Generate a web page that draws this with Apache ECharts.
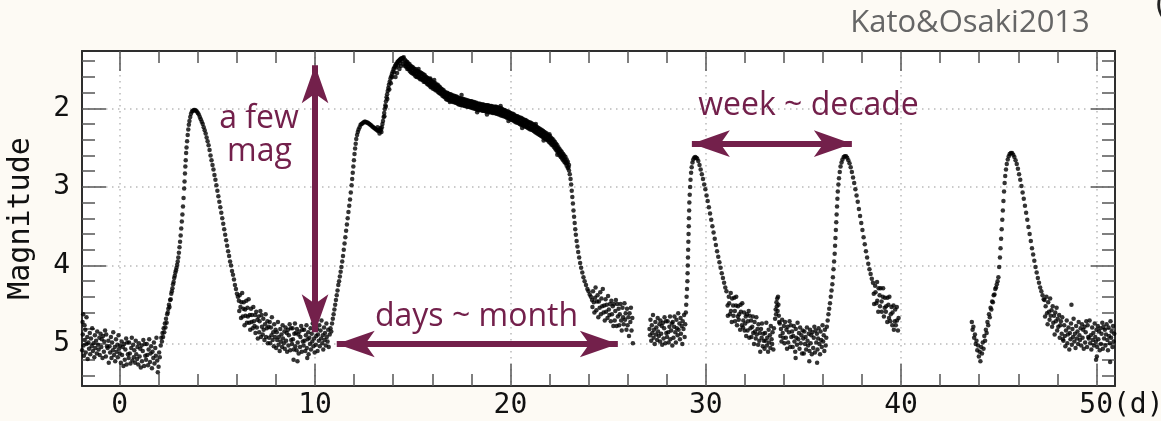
<!DOCTYPE html>
<html>
<head>
<meta charset="utf-8">
<script src="https://cdn.jsdelivr.net/npm/echarts@6/dist/echarts.min.js"></script>
<style>
  html, body { margin: 0; padding: 0; background: #fdfaf4; }
  #chart { width: 1161px; height: 421px; }
</style>
</head>
<body>
<div id="chart"></div>
<script>
// light curve, [day, magnitude]
var quiet1 = [[-1.9,4.72],[-1.87,4.62],[-1.8,4.76],[-1.7,4.66],
  [-1.92,5.08],[-1.89,4.88],[-1.85,5.02],[-1.83,5.15],[-1.79,4.95],[-1.76,4.82],[-1.74,5.11],[-1.7,5.0],[-1.66,4.91],[-1.64,5.19],[-1.6,4.98],[-1.57,5.06],[-1.53,4.86],[-1.51,5.13],[-1.47,4.93],[-1.43,5.03],[-1.41,4.8],[-1.37,5.09],[-1.34,4.99],[-1.3,5.17],[-1.27,4.89],[-1.25,5.05],[-1.21,4.96],[-1.17,5.12],[-1.15,4.84],[-1.11,5.01],[-1.08,5.07],[-1.04,4.92],[-1.02,5.14],[-0.98,4.87],[-0.94,5.04],[-0.92,4.94],[-0.88,5.18],[-0.85,4.9],[-0.81,5.1],[-0.79,4.97],[-0.75,4.83],[-0.71,5.16],[-0.69,4.88],[-0.65,5.03],
  [-0.62,5.05],[-0.58,4.96],[-0.56,5.24],[-0.52,5.03],[-0.49,5.11],[-0.45,4.91],[-0.42,5.18],[-0.39,4.98],[-0.35,5.08],[-0.33,4.85],[-0.29,5.14],[-0.25,5.04],[-0.23,5.22],[-0.19,4.94],[-0.16,5.1],[-0.12,5.01],[-0.1,5.17],[-0.06,4.89],[-0.03,5.06],[0.0,5.12],
  [0.03,5.02],[0.06,5.24],[0.1,4.97],[0.12,5.14],[0.16,5.04],[0.19,5.28],[0.23,5.0],[0.26,5.2],[0.29,5.07],[0.33,4.93],[0.35,5.26],[0.39,4.98],[0.42,5.13],[0.46,5.18],[0.48,4.98],[0.52,5.12],[0.55,5.25],[0.59,5.05],[0.62,4.92],[0.65,5.21],
  [0.69,5.01],[0.72,5.17],[0.75,5.08],[0.79,5.24],[0.82,4.96],[0.85,5.13],[0.89,5.19],[0.91,5.04],[0.95,5.26],[0.98,4.99],[1.02,5.16],[1.05,5.06],[1.08,5.3],[1.12,5.02],[1.14,5.22],[1.18,5.09],[1.21,4.95],[1.25,5.28],[1.28,5.0],[1.31,5.15],[1.35,5.2],[1.38,5.0],[1.41,5.14],[1.45,5.27],[1.48,5.07],[1.51,4.94],[1.55,5.23],[1.58,5.12],[1.61,5.03],[1.65,5.31],[1.68,5.1],[1.72,5.18],[1.75,4.98],[1.78,5.25],[1.82,5.05],[1.85,5.15],[1.88,4.92],[1.92,5.21],[1.95,5.36],[1.99,5.29],[2.02,5.11],[2.05,5.17]];

var outburst1 = [[2.1,5.02],[2.13,4.92],[2.16,4.97],[2.19,4.86],[2.22,4.91],[2.25,4.8],[2.28,4.85],[2.31,4.74],[2.34,4.79],[2.37,4.68],[2.4,4.73],[2.43,4.62],[2.46,4.6],[2.49,4.55],[2.52,4.5],[2.55,4.53],[2.58,4.44],[2.61,4.43],[2.64,4.36],[2.67,4.33],[2.7,4.29],[2.73,4.24],[2.76,4.21],[2.79,4.16],[2.82,4.13],[2.85,4.09],[2.88,4.06],[2.91,4.03],[2.94,3.99],[2.97,3.95],[3.0,3.9],[3.03,3.84],[3.06,3.77],[3.09,3.7],[3.12,3.62],[3.15,3.53],[3.18,3.44],[3.21,3.35],[3.24,3.25],[3.27,3.14],[3.3,3.02],[3.32,2.93],[3.34,2.83],[3.36,2.74],[3.38,2.66],[3.4,2.57],[3.42,2.5],[3.45,2.42],[3.48,2.34],[3.51,2.27],[3.54,2.21],[3.57,2.16],[3.61,2.11],[3.65,2.07],[3.7,2.04],[3.75,2.03],[3.8,2.02],[3.85,2.02],[3.9,2.03],[3.95,2.04],[4.0,2.06],[4.05,2.08],[4.1,2.11],[4.15,2.14],[4.2,2.17],[4.25,2.2],[4.3,2.24],[4.35,2.28],[4.4,2.32],[4.45,2.37],[4.5,2.42],[4.55,2.47],[4.6,2.53],[4.65,2.6],[4.7,2.66],[4.75,2.72],[4.8,2.78],[4.85,2.85],[4.9,2.91],[4.95,2.98],[5.0,3.05],[5.05,3.12],[5.1,3.19],[5.15,3.26],[5.2,3.33],[5.25,3.4],[5.3,3.47],[5.35,3.54],[5.4,3.61],[5.45,3.68],[5.5,3.75],[5.55,3.82],[5.6,3.88],[5.65,3.95],[5.7,4.0],[5.75,4.07],[5.8,4.12],[5.85,4.18],[5.9,4.25],[5.95,4.3],[6.0,4.36],[6.05,4.4],[6.1,4.45]];

var quiet2 = [[6.12,4.58],[6.14,4.38],[6.18,4.53],[6.21,4.67],[6.23,4.47],[6.27,4.35],[6.3,4.65],[6.33,4.55],[6.35,4.47],[6.39,4.76],[6.42,4.56],[6.44,4.64],[6.48,4.45],[6.51,4.73],[6.54,4.54],[6.56,4.65],[6.6,4.43],[6.63,4.73],[6.66,4.63],[6.68,4.82],[6.72,4.55],[6.75,4.72],[6.77,4.63],[6.81,4.8],[6.84,4.53],[6.87,4.71],[6.9,4.77],[6.93,4.63],[6.95,4.86],[6.99,4.59],
  [7.02,4.79],[7.05,4.69],[7.07,4.93],[7.11,4.65],[7.14,4.85],[7.16,4.71],[7.2,4.58],[7.23,4.91],[7.26,4.63],[7.28,4.78],[7.32,4.88],[7.35,4.68],[7.37,4.82],[7.41,4.95],[7.44,4.75],[7.47,4.62],[7.49,4.91],[7.53,4.8],[7.56,4.71],[7.58,4.99],[7.62,4.78],[7.65,4.92],[7.68,4.72],[7.7,4.99],[7.74,4.79],[7.77,4.89],[7.79,4.66],[7.83,4.95],[7.86,4.85],[7.89,5.03],[7.91,4.75],[7.95,4.91],[7.98,4.82],
  [8.01,5.05],[8.04,4.85],[8.06,4.95],[8.1,4.72],[8.13,5.01],[8.15,4.91],[8.19,5.09],[8.22,4.81],[8.24,4.97],[8.28,4.88],[8.31,5.04],[8.34,4.76],[8.36,4.93],[8.4,4.99],[8.43,4.84],[8.45,5.06],[8.49,4.79],[8.52,4.96],[8.55,4.86],[8.57,5.1],[8.61,4.82],[8.64,5.02],[8.66,4.89],[8.7,4.75],[8.73,5.08],[8.76,4.8],[8.78,4.95],[8.82,5.0],[8.85,4.8],[8.87,4.94],[8.9,5.2],[8.91,5.07],[8.94,4.87],[8.97,4.74],[8.99,5.03],
  [9.02,4.86],[9.05,5.08],[9.07,4.81],[9.1,5.22],[9.11,4.98],[9.14,4.88],[9.16,5.12],[9.2,4.84],[9.23,5.04],[9.25,4.91],[9.29,4.77],[9.32,5.1],[9.35,4.82],[9.37,4.97],[9.41,5.02],[9.44,4.82],[9.46,4.96],[9.5,5.09],[9.53,4.89],[9.56,4.76],[9.58,5.05],[9.6,5.18],[9.62,4.94],[9.65,4.85],[9.67,5.13],[9.71,4.92],[9.74,5.0],[9.77,4.8],[9.79,5.07],[9.83,4.87],[9.86,4.97],[9.88,4.74],[9.92,5.03],[9.95,4.93],[9.98,5.11],
  [10.01,4.72],[10.04,5.01],[10.06,4.9],[10.1,4.81],[10.13,5.09],[10.15,4.88],[10.19,4.96],[10.22,4.76],[10.24,5.03],[10.28,4.83],[10.31,4.93],[10.33,4.7],[10.37,4.99],[10.4,4.89],[10.42,5.07],[10.46,4.79],[10.49,4.95],[10.51,4.86],[10.55,5.02],[10.58,4.74],[10.6,4.91],[10.64,4.97],[10.67,4.82],[10.7,5.04]];

var superRise = [[10.75,4.88],[10.79,4.8],[10.83,4.84],[10.87,4.74],[10.91,4.68],[10.95,4.62],[10.99,4.56],[11.03,4.5],[11.07,4.44],[11.11,4.38],[11.15,4.32],[11.19,4.25],[11.23,4.2],[11.27,4.14],[11.31,4.08],[11.35,4.02],[11.39,3.95],[11.43,3.88],[11.47,3.8],[11.51,3.72],[11.55,3.64],[11.59,3.56],[11.63,3.48],[11.67,3.4],[11.71,3.32],[11.75,3.24],[11.79,3.16],[11.83,3.07],[11.87,2.98],[11.9,2.9],[11.93,2.82],[11.96,2.74],[11.99,2.66],[12.02,2.58],[12.05,2.51],[12.08,2.45],[12.11,2.39],[12.15,2.34],[12.19,2.3],[12.23,2.27],[12.28,2.24],[12.33,2.21],[12.38,2.2],[12.43,2.19],[12.48,2.18],[12.53,2.17],[12.58,2.17],[12.63,2.18],[12.68,2.18],[12.73,2.19],[12.78,2.2],[12.83,2.21],[12.88,2.22],[12.93,2.23],[12.98,2.24],[13.03,2.25],[13.08,2.26],[13.13,2.27],[13.18,2.28],[13.2,2.24],[13.23,2.29],[13.28,2.28],[13.3,2.32],[13.33,2.29],[13.35,2.25],[13.38,2.27],[13.4,2.3],[13.42,2.24],[13.45,2.2],[13.48,2.16],[13.51,2.11],[13.54,2.06],[13.55,2.1],[13.57,2.01],[13.6,1.96],[13.62,1.98],[13.63,1.91],[13.66,1.86],[13.69,1.82],[13.7,1.88],[13.72,1.78],[13.75,1.74],[13.78,1.7],[13.8,1.76],[13.82,1.66],[13.86,1.62],[13.88,1.68],[13.9,1.59],[13.94,1.56],[13.95,1.6],[13.98,1.53],[14.02,1.5],[14.05,1.54],[14.06,1.48],[14.1,1.46],[14.12,1.6],[14.14,1.44],[14.15,1.48],[14.18,1.43],[14.2,1.55],[14.22,1.41],[14.25,1.45],[14.26,1.4],[14.3,1.39],[14.32,1.5],[14.34,1.38],[14.35,1.42],[14.38,1.37],[14.4,1.46],[14.42,1.37],[14.45,1.4],[14.46,1.36],[14.5,1.36],[14.52,1.44],[14.54,1.35]];

var plateau = [[14.6,1.38],[14.6,1.46],[14.66,1.4],[14.66,1.47],[14.72,1.41],[14.72,1.5],[14.78,1.43],[14.78,1.5],[14.84,1.44],[14.84,1.52],[14.9,1.46],[14.9,1.54],[14.96,1.47],[14.96,1.55],[15.02,1.48],[15.02,1.56],[15.08,1.5],[15.08,1.57],[15.14,1.5],[15.14,1.59],[15.2,1.52],[15.2,1.6],[15.26,1.52],[15.26,1.6],[15.32,1.54],[15.32,1.61],[15.38,1.54],[15.38,1.63],[15.44,1.55],[15.44,1.63],[15.5,1.56],[15.5,1.64],[15.56,1.57],[15.56,1.66],[15.62,1.58],[15.62,1.66],[15.68,1.6],[15.68,1.67],[15.74,1.61],[15.74,1.69],[15.8,1.62],[15.8,1.7],[15.86,1.63],[15.86,1.71],[15.92,1.64],[15.92,1.73],[15.98,1.66],[15.98,1.73],[16.04,1.66],[16.04,1.75],[16.1,1.68],[16.1,1.75],[16.16,1.68],[16.16,1.77],[16.22,1.7],[16.22,1.77],[16.28,1.7],[16.28,1.79],[16.34,1.72],[16.34,1.8],[16.4,1.73],[16.4,1.81],[16.46,1.75],[16.46,1.82],[16.52,1.76],[16.52,1.84],[16.58,1.77],[16.58,1.85],[16.64,1.79],[16.64,1.86],[16.7,1.8],[16.7,1.88],[16.76,1.8],[16.76,1.89],[16.82,1.81],[16.82,1.89],[16.88,1.82],[16.88,1.9],[16.94,1.82],[16.94,1.9],[17.0,1.83],[17.0,1.91],[17.06,1.84],[17.06,1.92],[17.12,1.84],[17.12,1.92],[17.18,1.85],[17.18,1.93],[17.24,1.85],[17.24,1.93],[17.3,1.86],[17.3,1.94],[17.36,1.87],[17.36,1.95],[17.42,1.87],[17.42,1.95],[17.48,1.88],[17.48,1.96],[17.54,1.88],[17.54,1.96],[17.6,1.88],[17.6,1.96],[17.66,1.89],[17.66,1.97],[17.72,1.89],[17.72,1.97],[17.78,1.9],[17.78,1.98],[17.84,1.9],[17.84,1.98],[17.9,1.91],[17.9,1.98],[17.96,1.91],[17.96,1.99],[18.02,1.91],[18.02,1.99],[18.08,1.92],[18.08,2.0],[18.14,1.92],[18.14,2.0],[18.2,1.93],[18.2,2.01],[18.26,1.93],[18.26,2.01],[18.32,1.94],[18.32,2.02],[18.38,1.94],[18.38,2.02],[18.44,1.94],[18.44,2.02],[18.5,1.95],[18.5,2.02],[18.56,1.95],[18.56,2.03],[18.62,1.95],[18.62,2.03],[18.68,1.96],[18.68,2.03],[18.74,1.96],[18.74,2.04],[18.8,1.96],[18.8,2.04],[18.86,1.96],[18.86,2.04],[18.92,1.97],[18.92,2.05],[18.98,1.97],[18.98,2.05],[19.04,1.97],[19.04,2.05],[19.1,1.98],[19.1,2.06],[19.16,1.98],[19.16,2.06],[19.22,1.98],[19.22,2.06],[19.28,1.98],[19.28,2.07],[19.34,1.99],[19.34,2.07],[19.4,1.99],[19.4,2.08],[19.46,2.0],[19.46,2.08],[19.52,2.0],[19.52,2.09],[19.58,2.01],[19.58,2.09],[19.64,2.02],[19.64,2.1],[19.7,2.02],[19.7,2.1],[19.76,2.03],[19.76,2.11],[19.82,2.04],[19.82,2.12],[19.88,2.04],[19.88,2.12],[19.94,2.05],[19.94,2.13],[20.0,2.06],[20.0,2.14],[20.06,2.07],[20.06,2.15],[20.12,2.07],[20.12,2.15],[20.18,2.08],[20.18,2.16],[20.24,2.09],[20.24,2.17],[20.3,2.1],[20.3,2.18],[20.36,2.1],[20.36,2.18],[20.42,2.11],[20.42,2.19],[20.48,2.12],[20.48,2.2],[20.54,2.12],[20.54,2.21],[20.6,2.13],[20.6,2.21],[20.66,2.14],[20.66,2.22],[20.72,2.15],[20.72,2.23],[20.78,2.15],[20.78,2.23],[20.84,2.16],[20.84,2.24],[20.9,2.17],[20.9,2.25],[20.96,2.18],[20.96,2.26],[21.02,2.18],[21.02,2.27],[21.08,2.19],[21.08,2.27],[21.14,2.2],[21.14,2.28],[21.2,2.21],[21.2,2.29],[21.26,2.22],[21.26,2.3],[21.32,2.23],[21.32,2.31],[21.38,2.24],[21.38,2.32],[21.44,2.25],[21.44,2.33],[21.5,2.26],[21.5,2.34],[21.56,2.27],[21.56,2.35],[21.62,2.28],[21.62,2.36],[21.68,2.29],[21.68,2.37],[21.74,2.3],[21.74,2.38],[21.8,2.31],[21.8,2.39],[21.86,2.32],[21.86,2.4],[21.92,2.34],[21.92,2.41],[21.98,2.35],[21.98,2.43],[22.04,2.36],[22.04,2.44],[22.1,2.38],[22.1,2.46],[22.16,2.39],[22.16,2.47],[22.22,2.41],[22.22,2.49],[22.28,2.43],[22.28,2.51],[22.34,2.45],[22.34,2.53],[22.4,2.47],[22.4,2.55],[22.46,2.5],[22.46,2.57],[22.52,2.52],[22.52,2.6],[22.58,2.54],[22.58,2.62],[22.64,2.56],[22.64,2.64],[22.7,2.58],[22.7,2.66],[22.76,2.6],[22.76,2.68],[22.82,2.62],[22.82,2.7],[22.88,2.65],[22.88,2.73],[22.94,2.68],[22.94,2.76],[23.0,2.72],[23.0,2.79]];

var plateauMid = [[14.63,1.43],[14.69,1.44],[14.75,1.47],[14.81,1.48],[14.87,1.5],[14.93,1.49],[14.99,1.52],[15.05,1.54],[15.11,1.53],[15.17,1.56],[15.23,1.55],[15.29,1.58],[15.35,1.57],[15.41,1.6],[15.47,1.59],[15.53,1.62],[15.59,1.61],[15.65,1.64],[15.71,1.64],[15.77,1.66],[15.83,1.66],[15.89,1.69],[15.95,1.68],[16.01,1.71],[16.07,1.71],[16.13,1.73],[16.19,1.72],[16.25,1.75],[16.31,1.74],[16.37,1.77],[16.43,1.77],[16.49,1.8],[16.55,1.79],[16.61,1.83],[16.67,1.82],[16.73,1.85],[16.79,1.84],[16.85,1.86],[16.91,1.85],[16.97,1.88],[17.03,1.87],[17.09,1.89],[17.15,1.88],[17.21,1.9],[17.27,1.89],[17.33,1.91],[17.39,1.9],[17.45,1.92],[17.51,1.91],[17.57,1.93],[17.63,1.92],[17.69,1.94],[17.75,1.93],[17.81,1.95],[17.87,1.94],[17.93,1.96],[17.99,1.94],[18.05,1.96],[18.11,1.95],[18.17,1.97],[18.23,1.96],[18.29,1.98],[18.35,1.97],[18.41,1.99],[18.47,1.98],[18.53,2.0],[18.59,1.98],[18.65,2.0],[18.71,1.99],[18.77,2.01],[18.83,1.99],[18.89,2.01],[18.95,2.0],[19.01,2.02],[19.07,2.01],[19.13,2.03],[19.19,2.01],[19.25,2.03],[19.31,2.02],[19.37,2.04],[19.43,2.03],[19.49,2.05],[19.55,2.04],[19.61,2.06],[19.67,2.05],[19.73,2.07],[19.79,2.07],[19.85,2.09],[19.91,2.08],[19.97,2.1],[20.03,2.1],[20.09,2.12],[20.15,2.11],[20.21,2.13],[20.27,2.13],[20.33,2.15],[20.39,2.14],[20.45,2.16],[20.51,2.16],[20.57,2.18],[20.63,2.17],[20.69,2.19],[20.75,2.18],[20.81,2.21],[20.87,2.2],[20.93,2.22],[20.99,2.22],[21.05,2.24],[21.11,2.23],[21.17,2.26],[21.23,2.25],[21.29,2.28],[21.35,2.27],[21.41,2.3],[21.47,2.29],[21.53,2.32],[21.59,2.31],[21.65,2.34],[21.71,2.33],[21.77,2.36],[21.83,2.35],[21.89,2.38],[21.95,2.38],[22.01,2.4],[22.07,2.4],[22.13,2.43],[22.19,2.43],[22.25,2.47],[22.31,2.47],[22.37,2.51],[22.43,2.51],[22.49,2.55],[22.55,2.56],[22.61,2.6],[22.67,2.6],[22.73,2.64],[22.79,2.65],[22.85,2.69],[22.91,2.7],[22.97,2.75],
  [15.3,1.5],[15.9,1.62],[16.1,1.64],[16.9,1.92],[17.5,1.83],[18.3,2.05],[18.8,2.08],[19.5,1.97],[19.9,2.16],[20.6,2.25],[21.3,2.2],[21.7,2.41],[22.0,2.33],[22.4,2.59]];

var superFall = [[23.04,2.84],[23.08,2.9],[23.11,2.97],[23.14,3.05],[23.17,3.13],[23.2,3.21],[23.23,3.3],[23.26,3.38],[23.29,3.46],[23.32,3.54],[23.35,3.61],[23.39,3.69],[23.43,3.76],[23.47,3.83],[23.52,3.9],[23.57,3.97],[23.62,4.03],[23.68,4.09],[23.74,4.15],[23.8,4.2],[23.87,4.25],[23.94,4.3],[24.0,4.33],[24.06,4.37],[24.12,4.4],[24.18,4.44],
  [24.2,4.53],[24.23,4.33],[24.27,4.47],[24.3,4.6],[24.33,4.41],[24.36,4.28],[24.4,4.57],[24.43,4.46],[24.46,4.38],[24.5,4.66],[24.53,4.46],[24.57,4.54],[24.6,4.34],[24.63,4.62],[24.66,4.42],[24.7,4.52],[24.73,4.3],[24.77,4.6],[24.8,4.51],[24.83,4.7],[24.87,4.43],[24.9,4.59],[24.93,4.5],[24.97,4.67],[25.0,4.39],[25.04,4.56],[25.07,4.63],[25.1,4.49],[25.14,4.71],[25.17,4.45],[25.2,4.62],[25.24,4.52],[25.27,4.77],[25.3,4.49],[25.34,4.7],[25.37,4.58],[25.4,4.44],[25.44,4.77],[25.47,4.49],[25.5,4.65],[25.54,4.55],[25.57,4.76],[25.6,4.62],[25.64,4.49],[25.67,4.7],[25.7,4.83],[25.74,4.54],[25.77,4.66],[25.8,4.75],[25.84,4.48],[25.87,4.69],[25.9,4.61],[25.94,4.82],[25.97,4.55],[26.0,4.76],[26.04,4.66],[26.07,4.9],[26.1,4.61],[26.14,4.72],[26.17,4.54],[26.2,4.83],[26.24,4.67],[26.27,4.99]];

var quiet3 = [[27.12,4.81],[27.15,4.89],[27.17,4.69],[27.21,4.96],[27.24,4.76],[27.26,4.86],[27.3,4.63],[27.33,4.92],[27.35,4.82],[27.39,5.0],[27.42,4.72],[27.45,4.88],[27.47,4.79],[27.51,4.95],[27.54,4.67],[27.56,4.84],[27.6,4.9],[27.63,4.75],[27.66,4.97],[27.68,4.7],[27.72,4.87],[27.75,4.77],[27.77,5.01],[27.81,4.73],[27.84,4.93],[27.87,4.8],[27.89,4.66],[27.93,4.99],[27.96,4.71],[27.98,4.86],[28.02,4.91],[28.05,4.71],[28.08,4.85],[28.1,4.98],[28.14,4.78],[28.17,4.65],[28.19,4.94],[28.23,4.83],[28.26,4.74],[28.29,5.02],[28.31,4.72],[28.35,4.92],[28.38,4.78],[28.4,4.65],[28.44,4.85],[28.47,4.98],[28.5,4.69],[28.52,4.8],[28.56,4.89],[28.59,4.61],[28.61,4.82],[28.65,4.74],[28.68,4.94],[28.71,4.67],[28.73,4.87],[28.77,4.77],[28.8,5.0],[28.82,4.71],[28.86,4.81],[28.89,4.63],[28.92,4.91],[28.95,4.75]];

var outburst3 = [[28.98,4.6],[29.0,4.5],[29.02,4.4],[29.04,4.3],[29.06,4.2],[29.07,4.1],[29.08,4.0],[29.09,3.9],[29.1,3.8],[29.11,3.7],[29.12,3.6],[29.13,3.5],[29.14,3.4],[29.15,3.3],[29.16,3.2],[29.18,3.1],[29.2,3.0],[29.22,2.91],[29.25,2.82],[29.28,2.75],[29.32,2.69],[29.36,2.65],[29.41,2.63],[29.46,2.62],[29.51,2.63],[29.56,2.64],[29.62,2.67],[29.68,2.72],[29.74,2.78],[29.8,2.84],[29.86,2.9],[29.92,2.97],[29.98,3.03],[30.04,3.11],[30.1,3.18],[30.16,3.26],[30.22,3.34],[30.28,3.42],[30.34,3.5],[30.4,3.58],[30.46,3.66],[30.52,3.74],[30.58,3.82],[30.64,3.89],[30.7,3.96],[30.76,4.03],[30.82,4.1],[30.88,4.16],[30.94,4.22],[31.0,4.28],[31.06,4.33]];

var quiet4 = [[31.12,4.51],[31.13,4.64],[31.18,4.4],[31.2,4.48],[31.24,4.62],[31.28,4.35],[31.29,4.58],[31.33,4.72],[31.35,4.42],[31.4,4.51],[31.42,4.64],[31.46,4.41],[31.49,4.58],[31.5,4.71],[31.55,4.51],[31.56,4.4],[31.6,4.76],[31.64,4.65],[31.65,4.52],[31.69,4.69],[31.71,4.62],[31.76,4.82],[31.78,4.5],[31.8,4.59],[31.85,4.76],[31.87,4.48],[31.91,4.79],[31.92,4.7],[31.96,4.6],[31.99,4.83],
  [32.02,4.74],[32.05,4.65],[32.07,4.9],[32.11,4.62],[32.14,4.83],[32.16,4.71],[32.2,4.58],[32.23,4.92],[32.25,4.64],[32.29,4.8],[32.32,4.7],[32.34,4.91],[32.38,4.78],[32.41,4.65],[32.43,4.86],[32.47,5.0],[32.5,4.72],[32.52,4.84],[32.56,4.93],[32.59,4.66],[32.61,4.88],[32.65,4.81],[32.68,5.01],[32.7,4.75],[32.74,4.96],[32.77,4.86],[32.79,5.1],[32.83,4.81],[32.86,4.92],[32.88,4.74],[32.92,5.03],[32.95,4.87],[32.97,4.96],
  [33.01,5.06],[33.04,4.86],[33.06,4.96],[33.1,4.73],[33.13,5.02],[33.15,4.92],[33.19,5.1],[33.22,4.82],[33.24,4.98],[33.28,4.89],[33.31,5.05],[33.33,4.77],[33.37,4.94],[33.4,5.0],[33.42,4.85],[33.46,5.07],[33.49,4.8],
  [33.55,4.68],[33.58,4.56],[33.6,4.62],[33.62,4.47],[33.64,4.52],[33.66,4.42],[33.68,4.58],[33.7,4.4],[33.72,4.5],[33.74,4.64],[33.76,4.72],
  [33.79,4.74],[33.82,4.9],[33.85,4.81],[33.88,4.97],[33.91,4.69],[33.94,4.86],[33.97,4.92],[34.0,4.77],[34.03,4.99],[34.06,4.72],[34.1,4.92],[34.13,4.82],[34.16,5.06],[34.19,4.78],[34.22,4.98],[34.26,4.85],[34.29,4.71],[34.32,5.04],[34.35,4.76],[34.38,4.91],[34.42,4.84],[34.45,5.04],[34.48,4.9],[34.51,4.77],[34.54,4.97],[34.58,5.1],[34.6,5.18],[34.61,4.81],[34.64,4.92],[34.67,5.01],[34.7,4.73],[34.74,4.94],[34.77,4.86],[34.8,5.06],[34.83,4.79],[34.86,4.99],[34.9,4.89],[34.93,5.12],[34.96,4.83],[34.99,4.93],
  [35.02,5.12],[35.05,4.84],[35.08,5.0],[35.11,4.91],[35.14,5.07],[35.18,4.79],[35.21,4.96],[35.24,5.02],[35.27,4.87],[35.3,5.22],[35.31,5.09],[35.34,4.82],[35.37,4.99],[35.4,4.89],[35.43,5.13],[35.46,4.85],[35.5,5.05],[35.53,4.92],[35.56,4.78],[35.59,5.11],[35.62,4.83],[35.66,4.98],[35.69,4.87],[35.7,5.24],[35.72,5.07],[35.75,4.93],[35.78,4.8],[35.82,5.0],[35.85,5.13],[35.88,4.84],[35.91,4.95],[35.94,5.04],[35.98,4.76],[36.01,4.97],[36.04,4.89],[36.07,5.09],[36.1,4.82],[36.14,5.02],[36.17,4.92]];

var outburst4 = [[36.2,4.78],[36.24,4.7],[36.28,4.62],[36.32,4.55],[36.36,4.48],[36.4,4.4],[36.44,4.32],[36.48,4.24],[36.51,4.15],[36.54,4.05],[36.57,3.95],[36.6,3.85],[36.62,3.75],[36.64,3.65],[36.66,3.55],[36.68,3.45],[36.7,3.35],[36.72,3.25],[36.74,3.15],[36.76,3.06],[36.79,2.97],[36.82,2.89],[36.86,2.81],[36.9,2.74],[36.95,2.69],[37.0,2.65],[37.06,2.62],[37.12,2.61],[37.18,2.61],[37.24,2.63],[37.3,2.66],[37.36,2.7],[37.42,2.75],[37.48,2.81],[37.54,2.88],[37.6,2.95],[37.66,3.03],[37.72,3.11],[37.78,3.19],[37.84,3.28],[37.9,3.37],[37.96,3.46],[38.02,3.55],[38.08,3.64],[38.14,3.73],[38.2,3.82],[38.26,3.9],[38.32,3.98],[38.38,4.05],[38.44,4.11],[38.5,4.17],[38.56,4.22],
  [38.6,4.36],[38.62,4.49],[38.67,4.26],[38.69,4.34],[38.73,4.48],[38.77,4.21],[38.78,4.45],[38.83,4.59],[38.85,4.29],[38.9,4.38],[38.92,4.52],[38.95,4.29],[39.0,4.46],[39.01,4.59],[39.06,4.4],[39.08,4.29],[39.12,4.65],[39.16,4.54],[39.17,4.41],[39.22,4.59],[39.24,4.52],[39.29,4.72],[39.3,4.41],[39.35,4.5],[39.38,4.67],[39.4,4.4],[39.45,4.71],[39.47,4.62],[39.51,4.53],[39.55,4.76],[39.56,4.6],[39.61,4.51],[39.63,4.82],[39.68,4.71],[39.7,4.56],[39.73,4.76],[39.78,4.53],[39.79,4.7],[39.84,4.83],[39.87,4.67]];

var outburst5 = [[43.62,4.72],[43.66,4.82],[43.7,4.78],[43.74,4.92],[43.78,4.88],[43.82,5.0],[43.86,4.96],[43.9,5.08],[43.94,5.02],[43.98,5.16],[44.02,5.1],[44.06,5.22],[44.1,5.04],[44.14,5.12],[44.18,4.98],[44.22,5.06],[44.26,4.9],[44.3,4.96],[44.34,4.82],[44.38,4.86],[44.42,4.72],[44.46,4.76],[44.5,4.62],[44.54,4.66],[44.58,4.54],[44.62,4.56],[44.66,4.46],[44.7,4.47],[44.74,4.38],[44.78,4.37],[44.82,4.3],[44.86,4.28],[44.9,4.24],[44.94,4.2],[44.98,4.15],[45.02,4.02],[45.06,3.9],[45.09,3.78],[45.12,3.66],[45.15,3.54],[45.18,3.42],[45.21,3.3],[45.24,3.18],[45.27,3.06],[45.3,2.95],[45.33,2.86],[45.37,2.78],[45.41,2.71],[45.46,2.65],[45.51,2.61],[45.56,2.58],[45.62,2.57],[45.68,2.57],[45.74,2.59],[45.8,2.62],[45.86,2.66],[45.92,2.71],[45.98,2.77],[46.04,2.84],[46.1,2.91],[46.16,2.99],[46.22,3.07],[46.28,3.15],[46.34,3.24],[46.4,3.33],[46.46,3.42],[46.52,3.51],[46.58,3.6],[46.64,3.69],[46.7,3.78],[46.76,3.86],[46.82,3.94],[46.88,4.02],[46.94,4.09],[47.0,4.16],[47.06,4.22],[47.12,4.28],[47.18,4.33],[47.24,4.38],[47.3,4.43]];

var quiet5 = [[47.34,4.44],[47.37,4.65],[47.4,4.52],[47.44,4.4],[47.47,4.61],[47.5,4.75],[47.53,4.47],[47.57,4.59],[47.6,4.69],[47.63,4.42],[47.66,4.64],[47.7,4.57],[47.73,4.78],[47.76,4.52],[47.79,4.73],[47.83,4.64],[47.86,4.88],[47.89,4.6],[47.92,4.71],[47.96,4.54],[47.99,4.83],[48.02,4.68],[48.05,4.78],[48.09,4.63],[48.12,4.92],[48.15,4.76],[48.18,4.71],[48.22,4.87],[48.25,4.66],[48.28,4.94],
  [48.31,4.96],[48.35,4.76],[48.38,4.9],[48.41,5.03],[48.44,4.83],[48.48,4.7],[48.51,4.99],[48.54,4.88],[48.57,4.79],[48.61,5.07],[48.64,4.86],[48.67,4.94],[48.7,4.74],[48.72,4.5],[48.74,5.01],[48.77,4.81],[48.8,4.91],[48.83,4.68],[48.87,4.97],[48.9,4.87],[48.93,5.05],[48.96,4.77],[49.0,4.93],[49.03,4.84],[49.06,5.0],[49.09,4.72],[49.13,4.89],[49.16,4.95],[49.19,4.8],[49.22,5.02],[49.26,4.75],[49.29,4.92],[49.32,4.82],[49.35,5.06],[49.39,4.78],[49.42,4.98],[49.45,4.85],[49.48,4.71],[49.52,5.04],[49.55,4.76],[49.58,4.91],
  [49.61,4.93],[49.65,4.7],[49.68,4.99],[49.71,4.89],[49.74,5.07],[49.78,4.79],[49.81,4.95],[49.84,4.86],[49.87,5.02],[49.91,4.74],[49.94,4.91],[49.97,4.97],[49.98,5.2],[50.0,4.82],[50.02,5.16],[50.04,5.04],[50.07,4.77],[50.1,4.94],[50.13,4.84],[50.17,5.08],[50.2,4.8],[50.23,5.0],[50.26,4.87],[50.3,4.73],[50.33,5.06],[50.36,4.78],[50.39,4.93],[50.43,4.82],[50.46,5.02],[50.49,4.88],[50.52,4.75],[50.56,4.95],[50.59,5.08],[50.62,4.79],[50.65,4.9],[50.69,4.99],[50.7,5.23],[50.72,4.71],[50.75,4.92],[50.78,4.84],[50.82,5.04],[50.85,4.77],[50.88,4.97],[50.91,4.87]];

// axis ticks and labels
var xMajor = [0, 10, 20, 30, 40, 50];
var xMinor = [2, 4, 6, 8, 12, 14, 16, 18, 22, 24, 26, 28, 32, 34, 36, 38, 42, 44, 46, 48];
var yMajor = [2, 3, 4, 5];
var yMinor = [1.4, 1.6, 1.8, 2.2, 2.4, 2.6, 2.8, 3.2, 3.4, 3.6, 3.8, 4.2, 4.4, 4.6, 4.8, 5.2, 5.4];

// annotation arrows, tip to tip, in data units
var arrowFewMag = [[10, 4.85], [10, 1.45]];
var arrowDays = [[11.11, 5.0], [25.5, 5.0]];
var arrowWeek = [[29.29, 2.45], [37.48, 2.45]];

var MAROON = '#73204b';
var INK = '#2e2e2e';
var MONO = '"DejaVu Sans Mono", monospace';
var SANS = '"Open Sans", sans-serif';
var X_MIN = -1.93, X_MAX = 50.95;
var Y_MIN = 1.27, Y_MAX = 5.535;

var points = [].concat(quiet1, outburst1, quiet2, superRise, plateau, plateauMid, superFall,
  quiet3, outburst3, quiet4, outburst4, outburst5, quiet5);

function xAxisDef(pos, ticks, len, showLine, labels) {
  return {
    type: 'value', position: pos, min: X_MIN, max: X_MAX,
    axisLine: { show: showLine, onZero: false, lineStyle: { color: INK, width: 2 } },
    axisTick: { show: true, inside: true, length: len, customValues: ticks,
      lineStyle: { color: '#555', width: 1.5 } },
    axisLabel: labels ? {
      show: true, customValues: xMajor, margin: 6,
      fontFamily: MONO, fontSize: 28, color: '#111',
      formatter: function (v) { return v === 50 ? '{u|50(d)}' : String(v); },
      rich: { u: { fontFamily: MONO, fontSize: 28, color: '#111', padding: [0, 0, 0, 50] } }
    } : { show: false },
    splitLine: labels ? { show: true, lineStyle: { color: '#b9b9b9', width: 1.5, type: [1.5, 4.5] } } : { show: false }
  };
}

function yAxisDef(pos, ticks, len, showLine, labels) {
  return {
    type: 'value', position: pos, inverse: true, min: Y_MIN, max: Y_MAX,
    name: labels ? 'Magnitude' : '', nameLocation: 'middle', nameGap: 46, nameRotate: 90,
    nameTextStyle: { fontFamily: MONO, fontSize: 30, color: '#111' },
    axisLine: { show: showLine, onZero: false, lineStyle: { color: INK, width: 2 } },
    axisTick: { show: true, inside: true, length: len, customValues: ticks,
      lineStyle: { color: '#555', width: 1.5 } },
    axisLabel: labels ? {
      show: true, customValues: yMajor, margin: 12,
      fontFamily: MONO, fontSize: 28, color: '#111'
    } : { show: false },
    splitLine: labels ? { show: true, lineStyle: { color: '#b9b9b9', width: 1.5, type: [1.5, 4.5] } } : { show: false }
  };
}

function arrowPair(a) {
  return [
    { coord: a[0], symbol: 'arrow', symbolSize: [20, 38] },
    { coord: a[1], symbol: 'arrow', symbolSize: [20, 38] }
  ];
}

var chart = echarts.init(document.getElementById('chart'), null, { renderer: 'canvas' });
chart.setOption({
  animation: false,
  backgroundColor: '#fdfaf4',
  grid: { left: 82, right: 46, top: 51, bottom: 35, show: true, backgroundColor: '#ffffff',
    borderWidth: 0, containLabel: false, outerBoundsMode: 'none' },
  xAxis: [
    xAxisDef('bottom', xMajor, 22, true, true),
    xAxisDef('bottom', xMinor, 12, false, false),
    xAxisDef('top', xMajor, 20, true, false),
    xAxisDef('top', xMinor, 12, false, false)
  ],
  yAxis: [
    yAxisDef('left', yMajor, 24, true, true),
    yAxisDef('left', yMinor, 13, false, false),
    yAxisDef('right', yMajor, 24, true, false),
    yAxisDef('right', yMinor, 13, false, false)
  ],
  series: [{
    type: 'scatter',
    xAxisIndex: 0, yAxisIndex: 0,
    data: points,
    symbolSize: 4.5,
    itemStyle: { color: '#000' },
    z: 3,
    markLine: {
      silent: true,
      symbol: ['arrow', 'arrow'],
      symbolSize: [20, 38],
      lineStyle: { color: MAROON, width: 6, type: 'solid' },
      itemStyle: { color: MAROON },
      label: { show: false },
      emphasis: { disabled: true },
      data: [arrowPair(arrowFewMag), arrowPair(arrowDays), arrowPair(arrowWeek)]
    }
  }],
  graphic: [
    { type: 'text', x: 970, y: 23, style: { text: 'Kato&Osaki2013', font: '31px ' + SANS, fill: '#666',
      textAlign: 'center', textVerticalAlign: 'middle' } },
    { type: 'text', x: 259, y: 119, z: 10, style: { text: 'a few', font: '32px ' + SANS, fill: MAROON,
      textAlign: 'center', textVerticalAlign: 'middle' } },
    { type: 'text', x: 259.5, y: 152, z: 10, style: { text: 'mag', font: '32px ' + SANS, fill: MAROON,
      textAlign: 'center', textVerticalAlign: 'middle' } },
    { type: 'text', x: 476.5, y: 317, z: 10, style: { text: 'days ~ month', font: '32px ' + SANS, fill: MAROON,
      textAlign: 'center', textVerticalAlign: 'middle' } },
    { type: 'text', x: 808.5, y: 106, z: 10, style: { text: 'week ~ decade', font: '32px ' + SANS, fill: MAROON,
      textAlign: 'center', textVerticalAlign: 'middle' } },
    { type: 'text', x: 1151, y: -9, style: { text: '(', font: '30px ' + MONO, fill: '#222',
      textAlign: 'left', textVerticalAlign: 'top' } }
  ]
});
</script>
</body>
</html>
